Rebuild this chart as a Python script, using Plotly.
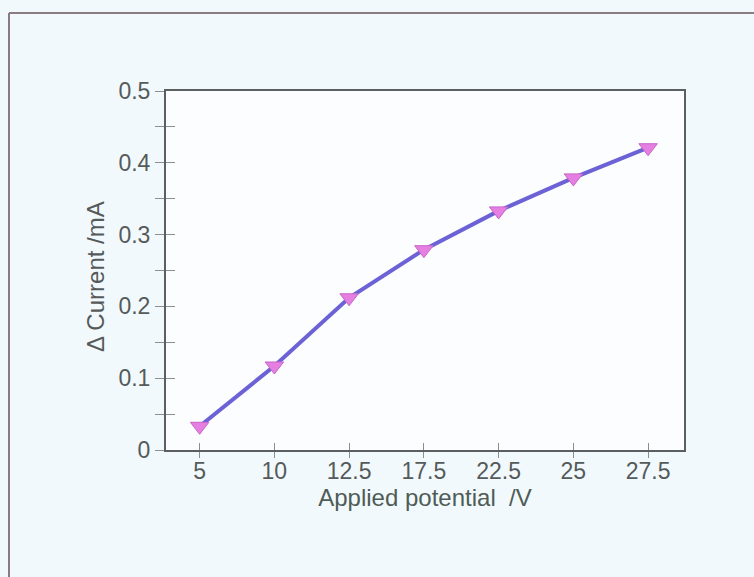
import plotly.graph_objects as go

potential_labels = ["5", "10", "12.5", "17.5", "22.5", "25", "27.5"]
delta_current = [0.033, 0.117, 0.212, 0.279, 0.333, 0.379, 0.421]

y_tick_vals = [0, 0.1, 0.2, 0.3, 0.4, 0.5]
y_tick_text = ["0", "0.1", "0.2", "0.3", "0.4", "0.5"]

W, H = 754, 577
L, R, T, B = 166, 70, 91, 127
pw, ph = W - L - R, H - T - B

def px_x(p):
    return (p - L) / pw

def px_y(p):
    return (H - B - p) / ph

axis_col = "#5b5f60"
tick_font = dict(family="Liberation Sans, Arial", size=23, color="#555a5a")

fig = go.Figure()
fig.add_trace(go.Scatter(
    x=potential_labels, y=delta_current, mode="lines+markers",
    line=dict(color="#6c62d6", width=4),
    marker=dict(symbol="triangle-down", size=16, color="#e57fe2",
                line=dict(color="#c865c8", width=1)),
    showlegend=False, cliponaxis=False,
))
# invisible trace for overlay axes (inner half of crossing ticks)
fig.add_trace(go.Scatter(
    x=potential_labels, y=delta_current, mode="markers",
    marker=dict(opacity=0), xaxis="x2", yaxis="y2",
    showlegend=False, hoverinfo="skip",
))

xr = [-0.45, 6.48]
fig.update_layout(
    width=W, height=H,
    margin=dict(l=L, r=R, t=T, b=B, pad=0),
    paper_bgcolor="#f2f9fc",
    plot_bgcolor="#fbfdfe",
    xaxis=dict(
        type="category", range=xr, showgrid=False, zeroline=False,
        showline=True, linecolor=axis_col, linewidth=2, mirror=True,
        ticks="outside", ticklen=6, tickwidth=1, tickcolor="#8a8f90",
        tickfont=tick_font, ticklabelstandoff=-7,
        title=dict(text="Applied potential  /V",
                   font=dict(family="Liberation Sans, Arial", size=24, color="#4f5c56"),
                   standoff=3),
    ),
    yaxis=dict(
        range=[0, 0.5], showgrid=False, zeroline=False,
        showline=True, linecolor=axis_col, linewidth=2, mirror=True,
        tickvals=y_tick_vals, ticktext=y_tick_text,
        ticks="outside", ticklen=9, tickwidth=1, tickcolor="#8a8f90",
        minor=dict(dtick=0.05, ticks="outside", ticklen=9, tickwidth=1, tickcolor="#8a8f90"),
        tickfont=tick_font,
    ),
    xaxis2=dict(
        type="category", range=xr, overlaying="x", side="bottom",
        showgrid=False, zeroline=False, showline=False, showticklabels=False,
        ticks="inside", ticklen=7, tickwidth=1, tickcolor="#8a8f90",
    ),
    yaxis2=dict(
        range=[0, 0.5], overlaying="y", side="left",
        showgrid=False, zeroline=False, showline=False, showticklabels=False,
        tickvals=y_tick_vals,
        ticks="inside", ticklen=9, tickwidth=1, tickcolor="#8a8f90",
        minor=dict(dtick=0.05, ticks="inside", ticklen=9, tickwidth=1, tickcolor="#8a8f90"),
    ),
    annotations=[
        dict(text="Δ Current /mA", textangle=-90, showarrow=False,
             xref="paper", yref="paper", x=px_x(95), y=px_y(277),
             xanchor="center", yanchor="middle",
             font=dict(family="Liberation Sans, Arial", size=24, color="#555a5a")),
    ],
    shapes=[
        dict(type="line", xref="paper", yref="paper",
             x0=px_x(9), x1=px_x(W + 20), y0=px_y(13), y1=px_y(13),
             line=dict(color="#8a7c80", width=2)),
        dict(type="line", xref="paper", yref="paper",
             x0=px_x(9), x1=px_x(9), y0=px_y(13), y1=px_y(H + 20),
             line=dict(color="#8a7c80", width=2)),
    ],
)

fig.write_html("out.html")
